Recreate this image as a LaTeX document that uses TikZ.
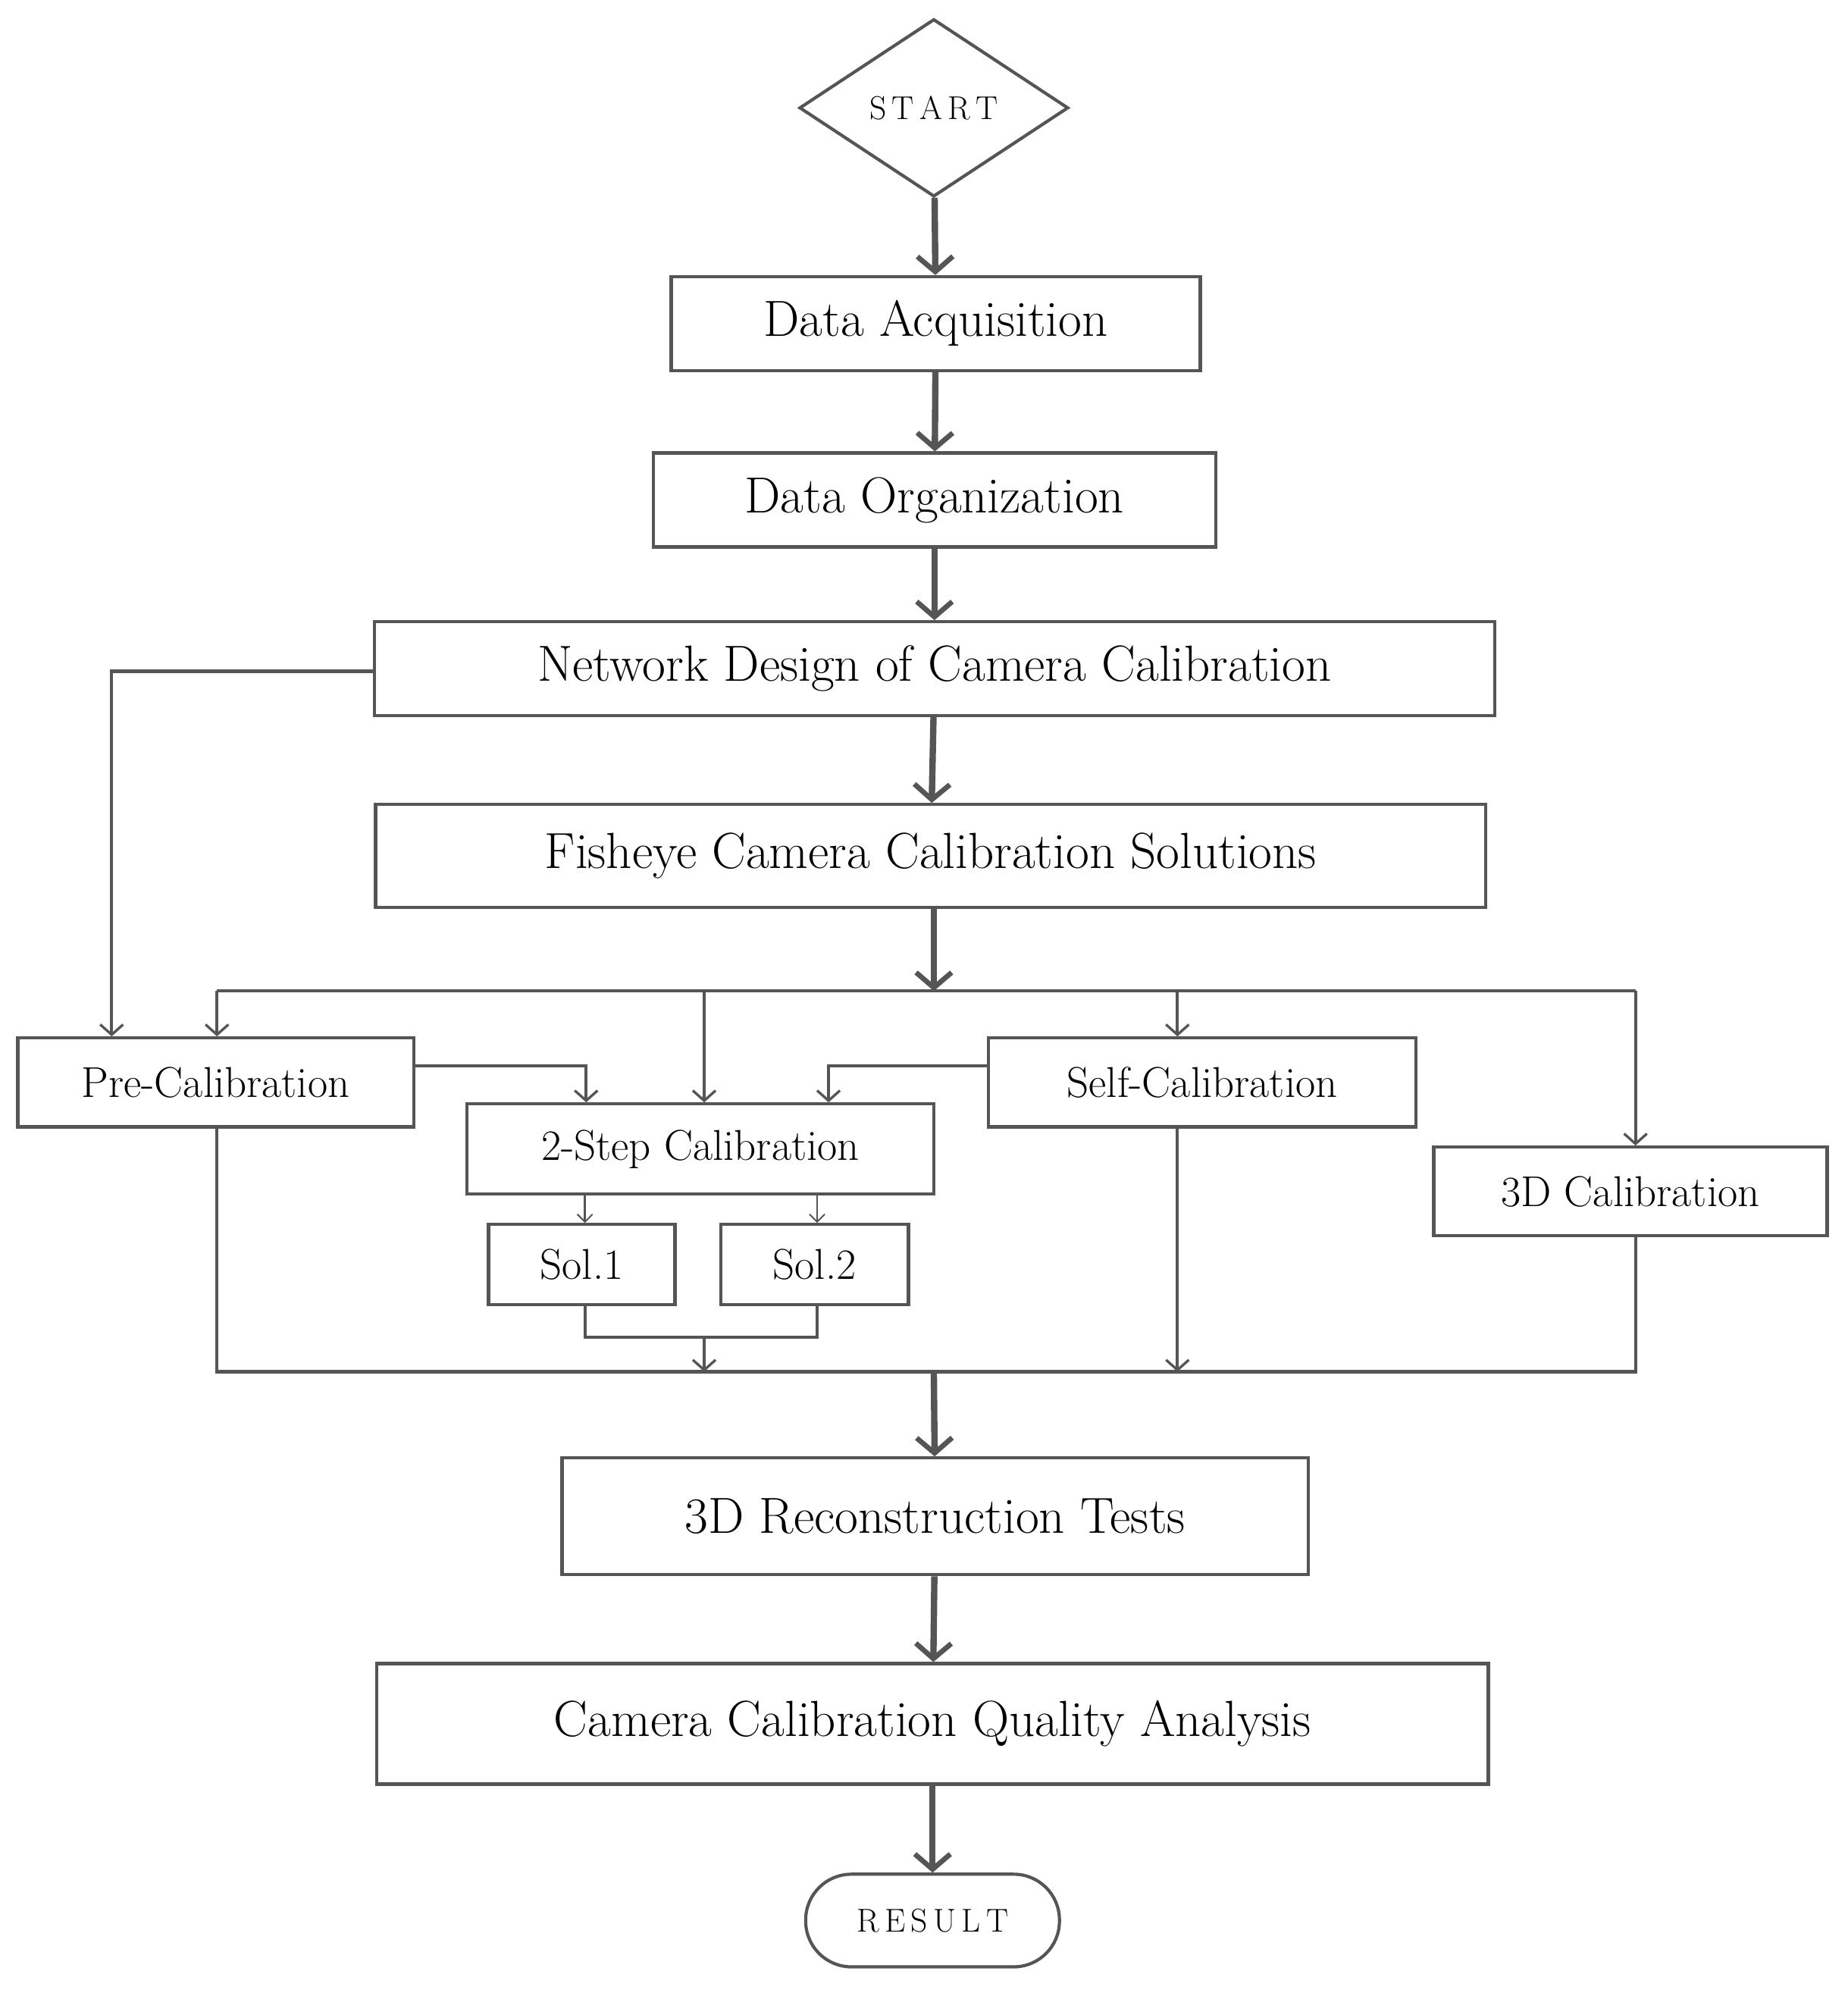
\documentclass[tikz,border=0pt]{standalone}
\usetikzlibrary{arrows.meta,shapes.geometric}
\definecolor{ln}{HTML}{555555}
\begin{document}
\begin{tikzpicture}[x=1pt,y=-1pt,
 box/.style={draw=ln,line width=2.5pt,inner sep=0pt,text=black},
 big/.style={font=\fontsize{40}{48}\selectfont},
 mid/.style={font=\fontsize{34}{40}\selectfont},
 thick/.style={draw=ln,line width=5pt,-{Straight Barb[length=12pt,width=28pt,line width=4pt]}},
 thin/.style={draw=ln,line width=2.5pt,-{Straight Barb[length=8pt,width=18pt,line width=2pt]}},
 tiny/.style={draw=ln,line width=1.5pt,-{Straight Barb[length=6pt,width=12pt,line width=1.2pt]}},
 plain/.style={draw=ln,line width=2.5pt}]
\useasboundingbox (0,0) rectangle (1456,1573);
\node[box,diamond,minimum width=212pt,minimum height=140pt,font=\fontsize{26}{30}\selectfont] (start) at (736,85) {S\,T\,A\,R\,T};
\node[box,big,minimum width=417pt,minimum height=74pt] (da) at (737.5,255) {Data Acquisition};
\node[box,big,minimum width=443pt,minimum height=74pt] (dor) at (736.5,394) {Data Organization};
\node[box,big,minimum width=883pt,minimum height=74pt] (nd) at (736.5,527) {Network Design of Camera Calibration};
\node[box,big,minimum width=875pt,minimum height=81pt] (fc) at (733.5,674.5) {Fisheye Camera Calibration Solutions};
\node[box,mid,minimum width=312pt,minimum height=70pt] (pre) at (170,853) {Pre-Calibration};
\node[box,mid,minimum width=368pt,minimum height=71pt] (two) at (552,905.5) {2-Step Calibration};
\node[box,mid,minimum width=337pt,minimum height=70pt] (self) at (947.5,853) {Self-Calibration};
\node[box,mid,minimum width=310pt,minimum height=70pt] (tdc) at (1285,939) {3D Calibration};
\node[box,mid,minimum width=147pt,minimum height=63pt] (s1) at (458.5,996.5) {Sol.1};
\node[box,mid,minimum width=148pt,minimum height=63pt] (s2) at (642,996.5) {Sol.2};
\node[box,big,minimum width=588pt,minimum height=92pt] (rec) at (737,1195) {3D Reconstruction Tests};
\node[box,big,minimum width=876pt,minimum height=95pt] (qa) at (735,1358.5) {Camera Calibration Quality Analysis};
\node[box,rounded corners=36pt,minimum width=200pt,minimum height=73pt,font=\fontsize{26}{30}\selectfont] (res) at (735,1513.5) {R\,E\,S\,U\,L\,T};
\coordinate (bt) at (736,781);
\coordinate (bb) at (736,1081);
\draw[thick] (start) -- (da);
\draw[thick] (da) -- (dor);
\draw[thick] (dor) -- (nd);
\draw[thick] (nd) -- (fc);
\draw[thick] (fc.south -| bt) -- (bt);
\draw[plain] (171,781) -- (1289,781);
\draw[thin] (171,781) -- (pre.north -| 171,0);
\draw[thin] (555,781) -- (two.north -| 555,0);
\draw[thin] (928,781) -- (self.north -| 928,0);
\draw[thin] (1289,781) -- (tdc.north -| 1289,0);
\draw[thin] (nd.west |- 0,529) -- (88,529) -- (pre.north -| 88,0);
\draw[thin] (pre.east |- 0,840) -- (462,840) -- (two.north -| 462,0);
\draw[thin] (self.west |- 0,840) -- (653,840) -- (two.north -| 653,0);
\draw[tiny] (two.south -| 461,0) -- (s1.north -| 461,0);
\draw[tiny] (two.south -| 644,0) -- (s2.north -| 644,0);
\draw[plain] (s1.south -| 461,0) -- (461,1054) -- (644,1054) -- (s2.south -| 644,0);
\draw[thin] (555,1054) -- (555,1081);
\draw[plain] (pre.south -| 171,0) -- (171,1081) -- (1289,1081) -- (tdc.south -| 1289,0);
\draw[thin] (self.south -| 928,0) -- (928,1081);
\draw[thick] (bb) -- (rec);
\draw[thick] (rec) -- (qa);
\draw[thick] (qa) -- (res);
\end{tikzpicture}
\end{document}
